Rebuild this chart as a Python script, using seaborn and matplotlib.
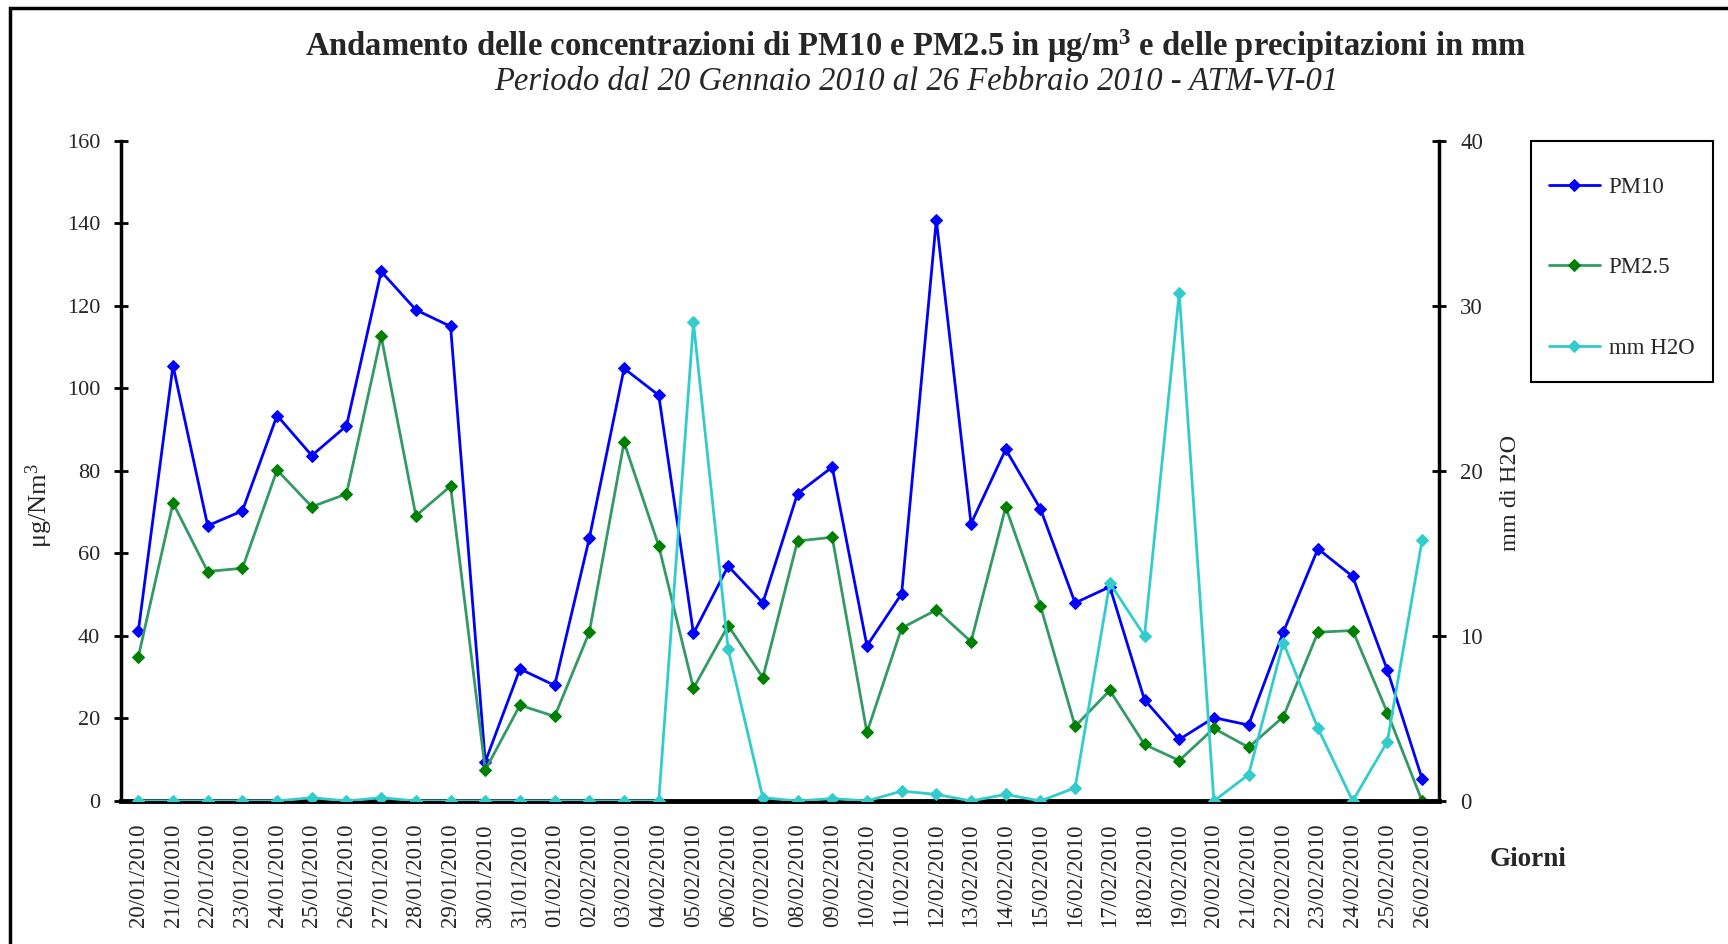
import matplotlib

matplotlib.use("Agg")

import matplotlib.pyplot as plt
from matplotlib.patches import Rectangle
import pandas as pd
import seaborn as sns

DATES = [
    "20/01/2010", "21/01/2010", "22/01/2010", "23/01/2010", "24/01/2010", "25/01/2010",
    "26/01/2010", "27/01/2010", "28/01/2010", "29/01/2010", "30/01/2010", "31/01/2010",
    "01/02/2010", "02/02/2010", "03/02/2010", "04/02/2010", "05/02/2010", "06/02/2010",
    "07/02/2010", "08/02/2010", "09/02/2010", "10/02/2010", "11/02/2010", "12/02/2010",
    "13/02/2010", "14/02/2010", "15/02/2010", "16/02/2010", "17/02/2010", "18/02/2010",
    "19/02/2010", "20/02/2010", "21/02/2010", "22/02/2010", "23/02/2010", "24/02/2010",
    "25/02/2010", "26/02/2010",
]
PM10 = [
    41.1, 105.5, 66.7, 70.3, 93.4, 83.7, 90.9, 128.3, 119.0, 115.0, 9.5, 32.0,
    28.0, 63.7, 104.8, 98.3, 40.6, 56.9, 48.0, 74.5, 80.9, 37.6, 50.2, 140.8,
    67.2, 85.2, 70.8, 48.0, 51.9, 24.5, 14.9, 20.2, 18.4, 40.9, 61.1, 54.4,
    31.7, 5.4,
]
PM25 = [
    34.9, 72.2, 55.6, 56.4, 80.2, 71.3, 74.4, 112.6, 69.1, 76.3, 7.5, 23.2,
    20.5, 40.9, 86.9, 61.8, 27.3, 42.5, 29.9, 63.0, 63.9, 16.6, 41.9, 46.3,
    38.6, 71.2, 47.3, 18.1, 26.8, 13.7, 9.8, 17.6, 13.0, 20.4, 40.9, 41.3,
    21.4, 0.0,
]
H2O = [
    0, 0, 0, 0, 0, 0.2, 0, 0.2, 0, 0, 0, 0,
    0, 0, 0, 0, 29.0, 9.2, 0.2, 0, 0.15, 0, 0.6, 0.4,
    0, 0.4, 0, 0.8, 13.2, 10.0, 30.8, 0, 1.6, 9.6, 4.4, 0,
    3.6, 15.8,
]

sns.set_theme(style="white")
plt.rcParams["font.family"] = ["Liberation Serif", "DejaVu Serif"]
plt.rcParams["mathtext.fontset"] = "custom"
plt.rcParams["mathtext.rm"] = "Liberation Serif"
plt.rcParams["mathtext.bf"] = "Liberation Serif:bold"

df = pd.DataFrame({"pos": range(len(DATES)), "data": DATES, "PM10": PM10, "PM2.5": PM25, "H2O": H2O})

fig = plt.figure(figsize=(17.28, 9.44), dpi=100)
ax = fig.add_axes([0.070, 0.1515, 0.763, 0.6995])
ax2 = ax.twinx()

sns.lineplot(data=df, x="pos", y="PM10", ax=ax, color="#0000ff", lw=2, marker="D", ms=6,
             markerfacecolor="#0000ff", markeredgecolor="#0000ff", label="PM10", legend=False)
sns.lineplot(data=df, x="pos", y="PM2.5", ax=ax, color="#339966", lw=2, marker="D", ms=6,
             markerfacecolor="#008000", markeredgecolor="#008000", label="PM2.5", legend=False)
sns.lineplot(data=df, x="pos", y="H2O", ax=ax2, color="#33cccc", lw=2, marker="D", ms=6,
             markerfacecolor="#33cccc", markeredgecolor="#33cccc", label="mm H2O", legend=False)

n = len(DATES)
for a in (ax, ax2):
    a.set_xlim(-0.5, n - 0.5)
    a.set_xlabel("")
    a.grid(False)
    for s in a.spines.values():
        s.set_visible(False)

ax.set_ylim(0, 160)
ax.set_yticks(range(0, 161, 20))
ax2.set_ylim(0, 40)
ax2.set_yticks(range(0, 41, 10))

ax.set_xticks(range(n))
ax.set_xticklabels(DATES, rotation=90, fontsize=16.5)
ax.set_xticks([i - 0.5 for i in range(n + 1)], minor=True)
ax.tick_params(axis="x", which="major", length=0, pad=16)
ax.tick_params(axis="x", which="minor", length=9, width=2, direction="inout", color="black")
ax.tick_params(axis="y", which="major", length=10, width=2, direction="inout", color="black",
               labelsize=16, pad=10, left=True)
ax2.tick_params(axis="y", which="major", length=10, width=2, direction="inout", color="black",
                labelsize=16.5, pad=10, right=True)

ax.spines["left"].set_visible(True)
ax.spines["left"].set_linewidth(2.5)
ax.spines["left"].set_color("black")
ax.spines["bottom"].set_visible(True)
ax.spines["bottom"].set_linewidth(3.5)
ax.spines["bottom"].set_color("black")
ax2.spines["right"].set_visible(True)
ax2.spines["right"].set_linewidth(2.5)
ax2.spines["right"].set_color("black")

ax.set_ylabel(r"$\mathrm{\mu g/Nm^3}$", fontsize=19)
ax.yaxis.set_label_coords(-0.050, 0.447)
ax2.set_ylabel("mm di H2O", fontsize=17.5)
ax2.yaxis.set_label_coords(1.046, 0.467)

fig.text(0.530, 0.951, r"Andamento delle concentrazioni di PM10 e PM2.5 in $\mathbf{\mu g/m^3}$ e delle precipitazioni in mm",
         ha="center", va="center", fontsize=23.5, fontweight="bold")
fig.text(0.530, 0.914, "Periodo dal 20 Gennaio 2010 al 26 Febbraio 2010 - ATM-VI-01",
         ha="center", va="center", fontsize=23.5, style="italic")
fig.text(0.884, 0.089, "Giorni", ha="center", va="center", fontsize=19.5, fontweight="bold")

# legend frame drawn separately so the box matches the original size
fig.patches.append(Rectangle((1531 / 1728, 1 - 382 / 944), 182 / 1728, 241 / 944,
                             transform=fig.transFigure, fill=False, edgecolor="black", lw=1.5))
h1, l1 = ax.get_legend_handles_labels()
h2, l2 = ax2.get_legend_handles_labels()
fig.legend(h1 + h2, l1 + l2, loc="upper left", bbox_to_anchor=(0.8964, 0.813),
           borderaxespad=0, borderpad=0, frameon=False, fontsize=16.5,
           labelspacing=2.6, handlelength=2.22, handletextpad=0.39)

# outer chart border
fig.patches.append(Rectangle((10 / 1728, -0.05), 1.1, 1.05 - 8 / 944, transform=fig.transFigure,
                             fill=False, edgecolor="black", lw=2.5))

fig.savefig("out.png", dpi=100)
